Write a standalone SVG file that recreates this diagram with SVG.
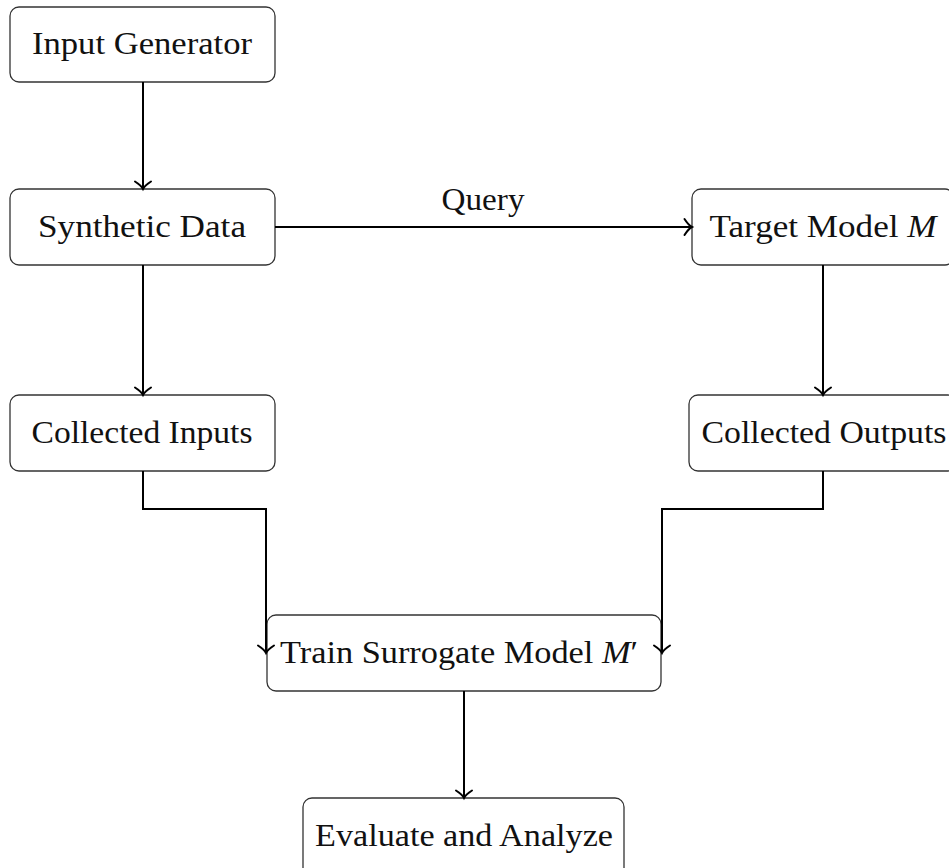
<svg xmlns="http://www.w3.org/2000/svg" width="949" height="868" viewBox="0 0 949 868">
  <style>
    .box { fill: #ffffff; stroke: #333333; stroke-width: 1.3; }
    .lbl { font-family: "Liberation Serif", "DejaVu Serif", serif; font-size: 31px; fill: #111111; text-anchor: middle; }
    .edge { fill: none; stroke: #000000; stroke-width: 2; }
    .it { font-style: italic; }
  </style>
  <defs>
    <marker id="arrow" markerUnits="userSpaceOnUse" markerWidth="22" markerHeight="22" viewBox="-11 -11 22 22" refX="0" refY="0" orient="auto">
      <path d="M -7.5,-8 C -4.8,-3.8 -2,-1 0,0 C -2,1 -4.8,3.8 -7.5,8" fill="none" stroke="#000" stroke-width="2" stroke-linecap="round"/>
    </marker>
  </defs>

  <rect width="949" height="868" fill="#ffffff"/>

  <g id="input-generator">
    <rect class="box" x="10" y="7" width="265" height="75" rx="9"/>
    <text class="lbl" x="142" y="54" textLength="220" lengthAdjust="spacingAndGlyphs">Input Generator</text>
  </g>

  <g id="synthetic-data">
    <rect class="box" x="10" y="189" width="265" height="76" rx="9"/>
    <text class="lbl" x="142" y="237" textLength="208" lengthAdjust="spacingAndGlyphs">Synthetic Data</text>
  </g>

  <g id="target-model">
    <rect class="box" x="692" y="189" width="262" height="76" rx="9"/>
    <text class="lbl" x="823" y="237" textLength="227" lengthAdjust="spacingAndGlyphs">Target Model <tspan class="it">M</tspan></text>
  </g>

  <g id="collected-inputs">
    <rect class="box" x="10" y="395" width="265" height="76" rx="9"/>
    <text class="lbl" x="142" y="443" textLength="221" lengthAdjust="spacingAndGlyphs">Collected Inputs</text>
  </g>

  <g id="collected-outputs">
    <rect class="box" x="689" y="395" width="268" height="76" rx="9"/>
    <text class="lbl" x="824" y="443" textLength="245" lengthAdjust="spacingAndGlyphs">Collected Outputs</text>
  </g>

  <g id="train-surrogate">
    <rect class="box" x="267" y="615" width="394" height="76" rx="9"/>
    <text class="lbl" x="459" y="663" textLength="358" lengthAdjust="spacingAndGlyphs">Train Surrogate Model <tspan class="it">M</tspan>′</text>
  </g>

  <g id="evaluate-analyze">
    <rect class="box" x="303" y="798" width="321" height="80" rx="9"/>
    <text class="lbl" x="464" y="846" textLength="298" lengthAdjust="spacingAndGlyphs">Evaluate and Analyze</text>
  </g>

  <!-- connectors, drawn over the boxes -->
  <g id="connectors">
    <path class="edge" d="M143,82 V189" marker-end="url(#arrow)"/>
    <path class="edge" d="M143,265 V395" marker-end="url(#arrow)"/>
    <path class="edge" d="M275,227 H692" marker-end="url(#arrow)"/>
    <text class="lbl" x="483" y="210" textLength="83" lengthAdjust="spacingAndGlyphs">Query</text>
    <path class="edge" d="M823,265 V395" marker-end="url(#arrow)"/>
    <path class="edge" d="M143,471 V509 H266 V653" marker-end="url(#arrow)"/>
    <path class="edge" d="M823,471 V509 H662 V653" marker-end="url(#arrow)"/>
    <path class="edge" d="M464,691 V798" marker-end="url(#arrow)"/>
  </g>
</svg>
